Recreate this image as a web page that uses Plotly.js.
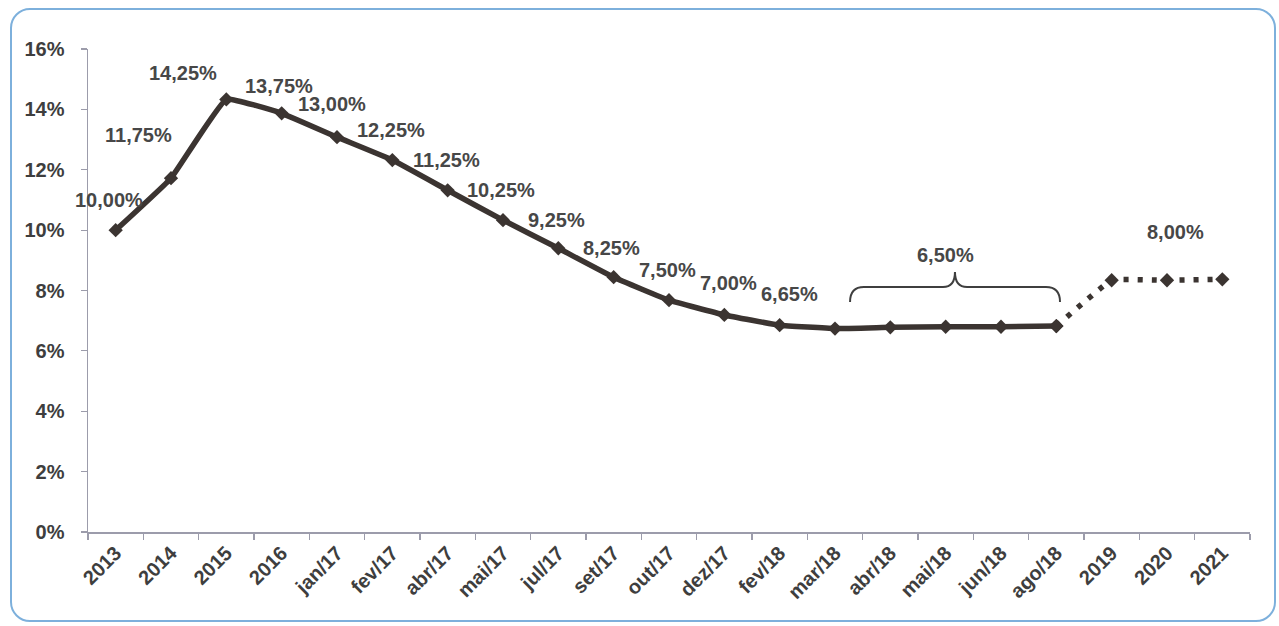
<!DOCTYPE html>
<html>
<head>
<meta charset="utf-8">
<script src="https://cdn.plot.ly/plotly-3.0.1.min.js"></script>
<style>
  html, body { margin: 0; padding: 0; background: #ffffff; }
  #wrap { position: relative; width: 1279px; height: 626px; overflow: hidden; }
  #chart { position: absolute; left: 0; top: 0; width: 1279px; height: 626px; }
  #frame { position: absolute; left: 10px; top: 8px; width: 1262px; height: 610px;
           border: 2px solid #7db0dc; border-radius: 20px; pointer-events: none; }
</style>
</head>
<body>
<div id="wrap">
  <div id="chart"></div>
  <div id="frame"></div>
</div>
<script>
// ---- data ----
const categories = ['2013', '2014', '2015', '2016', 'jan/17', 'fev/17', 'abr/17', 'mai/17',
  'jul/17', 'set/17', 'out/17', 'dez/17', 'fev/18', 'mar/18', 'abr/18', 'mai/18',
  'jun/18', 'ago/18', '2019', '2020', '2021'];
const rates = [10.00, 11.72, 14.33, 13.87, 13.08, 12.32, 11.32, 10.33, 9.40, 8.44, 7.68,
  7.19, 6.85, 6.74, 6.78, 6.80, 6.80, 6.82, 8.34, 8.34, 8.37];
const lastActualIndex = 17;           // ago/18: solid line ends, dotted forecast begins
const pointLabels = ['10,00%', '11,75%', '14,25%', '13,75%', '13,00%', '12,25%', '11,25%',
  '10,25%', '9,25%', '8,25%', '7,50%', '7,00%', '6,65%'];
const groupLabel = '6,50%';            // mar/18 .. ago/18
const forecastLabel = '8,00%';         // 2019 .. 2021
const yTickVals = [0, 2, 4, 6, 8, 10, 12, 14, 16];
const yTickText = ['0%', '2%', '4%', '6%', '8%', '10%', '12%', '14%', '16%'];

// ---- styling / layout ----
const lineColor = '#3b3431';
const textColor = '#474747';
const labelOffsets = [[-7, 30], [-33, 43], [-43, 26], [-3, 27], [-5, 33], [-1, 30], [-1, 30],
  [-2, 30], [-2, 28], [-2, 29], [-2, 30], [4, 32], [10, 31]];

const W = 1279, H = 626;
const M = { l: 88, r: 29, t: 49, b: 94 };
const pw = W - M.l - M.r, ph = H - M.t - M.b;
const px = x => ((x - M.l) / pw).toFixed(4);
const py = y => ((H - M.b - y) / ph).toFixed(4);

const solid = {
  x: categories.slice(0, lastActualIndex + 1),
  y: rates.slice(0, lastActualIndex + 1),
  type: 'scatter', mode: 'lines+markers',
  line: { color: lineColor, width: 5.5, shape: 'spline', smoothing: 0.3 },
  marker: { symbol: 'diamond', size: 11, color: lineColor },
  hoverinfo: 'x+y'
};
const forecast = {
  x: categories.slice(lastActualIndex),
  y: rates.slice(lastActualIndex),
  type: 'scatter', mode: 'lines+markers',
  line: { color: lineColor, width: 5.5, shape: 'spline', smoothing: 0.25, dash: '5px,9px' },
  marker: { symbol: 'diamond', size: 11, color: lineColor },
  hoverinfo: 'x+y'
};

const labFont = { family: 'Liberation Sans, Arial, sans-serif', size: 20, color: textColor, weight: 'bold' };
const annotations = pointLabels.map((t, i) => ({
  x: i, y: rates[i], xref: 'x', yref: 'y', text: t, showarrow: false,
  xanchor: 'center', yanchor: 'middle', xshift: labelOffsets[i][0], yshift: labelOffsets[i][1],
  font: labFont
}));
annotations.push({ x: 15, y: rates[15], xref: 'x', yref: 'y', text: groupLabel,
  showarrow: false, xanchor: 'center', yanchor: 'middle', xshift: 0, yshift: 72, font: labFont });
annotations.push({ x: 19, y: rates[19], xref: 'x', yref: 'y', text: forecastLabel,
  showarrow: false, xanchor: 'center', yanchor: 'middle', xshift: 8, yshift: 48, font: labFont });

// curly bracket over mar/18 .. ago/18 (decoration)
const bx0 = 850, bx1 = 1060, bxm = 955, by0 = 302, by1 = 287, byt = 272;
const bracketPath =
  `M ${px(bx0)},${py(by0)} Q ${px(bx0)},${py(by1)} ${px(bx0 + 14)},${py(by1)} ` +
  `L ${px(bxm - 12)},${py(by1)} Q ${px(bxm)},${py(by1)} ${px(bxm)},${py(byt)} ` +
  `Q ${px(bxm)},${py(by1)} ${px(bxm + 12)},${py(by1)} ` +
  `L ${px(bx1 - 14)},${py(by1)} Q ${px(bx1)},${py(by1)} ${px(bx1)},${py(by0)}`;

const tickFont = { family: 'Liberation Sans, Arial, sans-serif', size: 20, color: '#3e3e3e', weight: 'bold' };

const layout = {
  width: W, height: H,
  margin: M,
  paper_bgcolor: '#ffffff', plot_bgcolor: '#ffffff',
  showlegend: false,
  xaxis: {
    type: 'category', categoryorder: 'array', categoryarray: categories,
    range: [-0.5, categories.length - 0.5],
    showline: true, linecolor: '#9c9cab', linewidth: 1.5,
    ticks: 'outside', tickson: 'boundaries', ticklen: 6, tickcolor: '#9c9cab', tickwidth: 1.2,
    tickangle: -45, tickfont: tickFont, showgrid: false, zeroline: false
  },
  yaxis: {
    range: [0, 16], tickvals: yTickVals, ticktext: yTickText,
    showline: true, linecolor: '#9c9cab', linewidth: 1.5,
    ticks: 'outside', ticklen: 6, tickcolor: '#9c9cab', tickwidth: 1.2,
    ticklabelstandoff: 12,
    tickfont: tickFont, showgrid: false, zeroline: false
  },
  annotations: annotations,
  shapes: [{ type: 'path', xref: 'paper', yref: 'paper', path: bracketPath,
             line: { color: '#3f3f3f', width: 2 } }]
};

Plotly.newPlot('chart', [solid, forecast], layout, { displayModeBar: false, staticPlot: true });
</script>
</body>
</html>
